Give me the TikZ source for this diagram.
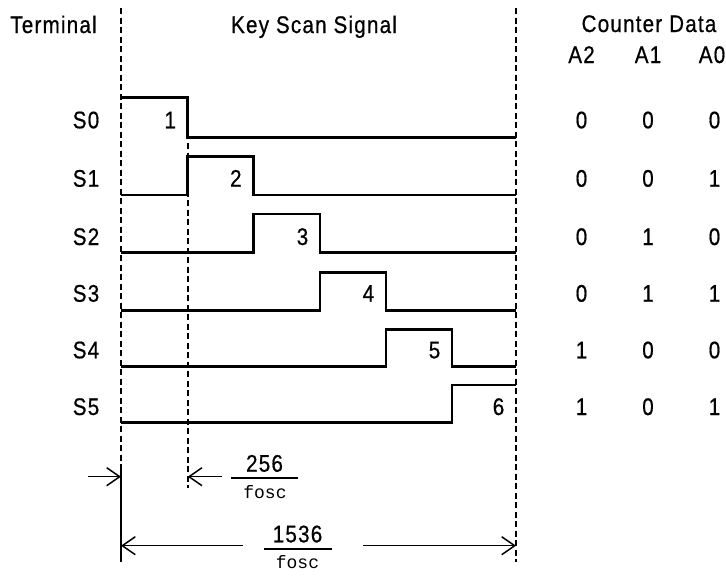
\documentclass[tikz,border=0pt]{standalone}
\usepackage{fontspec}
\setmainfont[FakeStretch=0.86,LetterSpace=5,FakeBold=0.6]{Liberation Sans}
\newfontfamily\monof{Liberation Mono}
\usetikzlibrary{arrows.meta}
\begin{document}
\begin{tikzpicture}[x=1pt,y=-1pt,
  txt/.style={font=\fontsize{24}{27}\selectfont, inner sep=0pt},
  den/.style={font=\monof\fontsize{18}{20}\selectfont, inner sep=0pt},
  sig/.style={line width=2.7pt, line join=miter},
  guide/.style={line width=1.6pt, dash pattern=on 6pt off 3.5pt},
  dim/.style={line width=1.5pt},
  dimarrow/.style={dim, -{Straight Barb[length=13pt,width=18pt,line width=1.5pt]}},
  bar/.style={line width=1.8pt}]
\useasboundingbox (0,0) rectangle (726,576);

% headers
\node[txt,anchor=base] (term) at (53.5,33) {Terminal};
\node[txt,anchor=base] (kss) at (314,33) {Key Scan Signal};
\node[txt,anchor=base] (cd) at (649,32) {Counter Data};
\node[txt,anchor=base] (a2) at (581.5,63) {A2};
\node[txt,anchor=base] (a1) at (648,63) {A1};
\node[txt,anchor=base] (a0) at (712,63) {A0};

% guide lines
\draw[guide] (121,8) -- (121,470);
\draw[dim] (121,470) -- (121,562);
\draw[guide] (187.7,143) -- (187.7,488);
\draw[guide] (516,8) -- (516,562);

% signals
\draw[sig] (121,97.3) -- (187.7,97.3) -- (187.7,137.3) -- (516,137.3);
\draw[sig] (121,195) -- (187.7,195) -- (187.7,156.7) -- (253.3,156.7) -- (253.3,195) -- (516,195);
\draw[sig] (121,252.7) -- (253.3,252.7) -- (253.3,214) -- (320,214) -- (320,252.7) -- (516,252.7);
\draw[sig] (121,310.7) -- (320,310.7) -- (320,272.7) -- (386,272.7) -- (386,310.7) -- (516,310.7);
\draw[sig] (121,366.7) -- (386,366.7) -- (386,329.3) -- (452,329.3) -- (452,366.7) -- (516,366.7);
\draw[sig] (121,422.7) -- (452,422.7) -- (452,385) -- (516,385);

% row labels, pulse numbers, counter data
\foreach \i/\y/\fx/\aa/\ab/\ac in {0/128.3/187.7/0/0/0, 1/186.7/253.3/0/0/1, 2/245/320/0/1/0,
    3/301.7/386/0/1/1, 4/358.3/452/1/0/0, 5/415/516/1/0/1}{
  \node[txt,anchor=base] (s\i) at (86,\y) {S\i};
  \pgfmathtruncatemacro{\n}{\i+1}
  \node[txt,anchor=base] (p\i) at ({\fx-17.5},\y) {\n};
  \node[txt,anchor=base] (d2\i) at (581.5,\y) {\aa};
  \node[txt,anchor=base] (d1\i) at (648,\y) {\ab};
  \node[txt,anchor=base] (d0\i) at (714.5,\y) {\ac};
}

% dimension 256/fosc
\coordinate (l1) at (121,476.7);
\coordinate (l1s) at (88,476.7);
\coordinate (m1) at (187.7,476.7);
\coordinate (m1s) at (222,476.7);
\draw[dimarrow] (l1s) -- (l1);
\draw[dimarrow] (m1s) -- (m1);
\node[txt,anchor=base] (n256) at (264.5,471.7) {256};
\coordinate (b1a) at (231,477.7);
\coordinate (b1b) at (298,477.7);
\draw[bar] (b1a) -- (b1b);
\node[den,anchor=base] (f1) at (265,498.3) {fosc};

% dimension 1536/fosc
\coordinate (l2) at (121,545.7);
\coordinate (l2s) at (243,545.7);
\coordinate (r2) at (516,545.7);
\coordinate (r2s) at (363,545.7);
\draw[dimarrow] (l2s) -- (l2);
\draw[dimarrow] (r2s) -- (r2);
\node[txt,anchor=base] (n1536) at (297.5,542.3) {1536};
\coordinate (b2a) at (264,549);
\coordinate (b2b) at (332,549);
\draw[bar] (b2a) -- (b2b);
\node[den,anchor=base] (f2) at (297.5,568) {fosc};
\end{tikzpicture}
\end{document}
